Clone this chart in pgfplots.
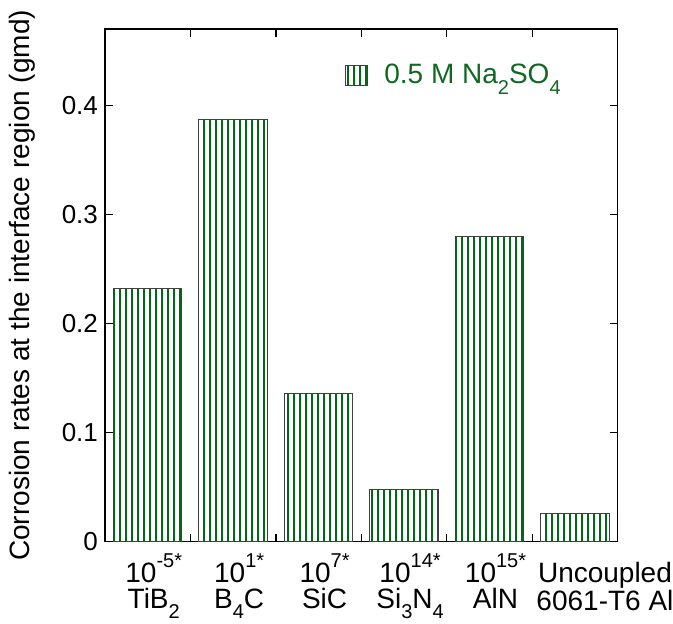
\documentclass[border=0pt]{standalone}
\usepackage{pgfplots}
\pgfplotsset{compat=1.18}
\usepackage{fontspec}
\setmainfont{Liberation Sans}
\usetikzlibrary{patterns.meta}
\definecolor{barg}{RGB}{0,105,20}
\definecolor{legg}{RGB}{15,105,35}
\newcommand\sub[1]{\raisebox{-0.7ex}{\fontsize{10}{10}\selectfont #1}}
\newcommand\sups[1]{\raisebox{1ex}{\fontsize{10}{10}\selectfont #1}}
\begin{document}
\begin{tikzpicture}
\begin{axis}[
  scale only axis, width=256.35pt, height=256.35pt,
  xmin=0.5, xmax=6.5, ymin=0, ymax=0.47,
  ybar, bar width=0.8, bar shift=0pt,
  axis line style={line width=0.6pt},
  tick style={line width=0.6pt, black},
  tick align=inside, tick pos=both,
  major tick length=4pt, minor tick length=4pt,
  xtick={1,2,3,4,5,6},
  minor xtick={1.5,2.5,3.5,4.5,5.5},
  major x tick style={draw=none},
  xticklabels={{10\sups{-5*}\\TiB\sub{2}},{10\sups{1*}\\B\sub{4}C},{10\sups{7*}\\SiC},{10\sups{14*}\\Si\sub{3}N\sub{4}},{10\sups{15*}\\AlN},{\vphantom{\sups{1}}\hspace*{24pt}Uncoupled\\\hspace*{24pt}6061-T6 Al}},
  xticklabel style={align=center, font=\fontsize{14}{13}\selectfont, xshift=3pt, yshift=-2.5pt},
  ytick={0,0.1,0.2,0.3,0.4},
  yticklabel style={/pgf/number format/fixed, /pgf/number format/precision=1, font=\fontsize{13}{15}\selectfont},
  /pgf/number format/assume math mode=true,
  ylabel={Corrosion rates at the interface region (gmd)},
  every axis y label/.style={at={(axis description cs:-0.162,0.5)}, rotate=90, anchor=center, font=\fontsize{14}{16}\selectfont},
  legend style={draw=none, fill=none, at={(axis description cs:0.468,0.94)}, anchor=north west, inner sep=0pt, font=\fontsize{14}{16}\selectfont, text=legg,
    nodes={inner sep=2pt}, /tikz/every odd column/.append style={column sep=6pt}},
]
\addplot[draw=black!75, line width=0.5pt, pattern={Lines[angle=90,distance=3pt,line width=0.7pt]}, pattern color=barg,
  legend image code/.code={\draw[draw=black!75, line width=0.5pt, pattern={Lines[angle=90,distance=3pt,line width=0.7pt]}, pattern color=barg] (0pt,-5pt) rectangle (11pt,5pt);}]
  coordinates {(1,0.232) (2,0.387) (3,0.136) (4,0.0483) (5,0.280) (6,0.026)};
\addlegendentry{0.5 M Na\sub{2}SO\sub{4}}
\end{axis}
\pgfresetboundingbox
\path[use as bounding box] ([shift={(-52.5pt,-41.15pt)}]current axis.south west) rectangle ([shift={(27.65pt,14.5pt)}]current axis.north east);
\end{tikzpicture}
\end{document}
